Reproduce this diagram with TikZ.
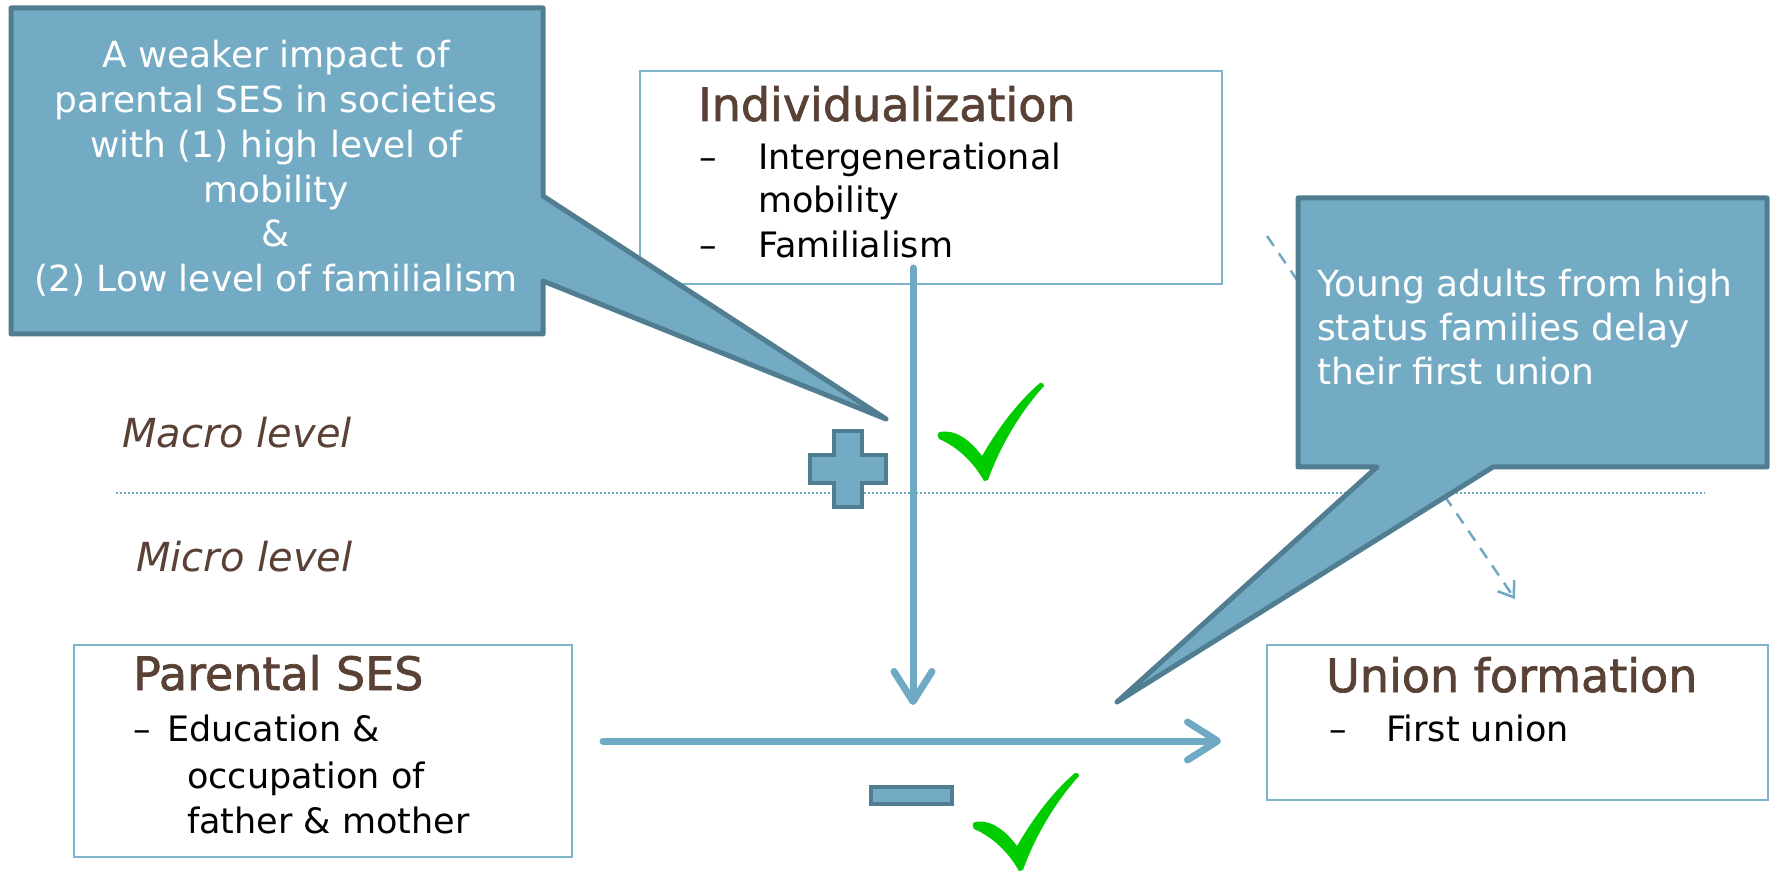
\documentclass[tikz,border=0pt]{standalone}
\usepackage{fontspec}
\setmainfont{DejaVu Sans}
\newfontfamily\titlefont[FakeBold=1.5]{DejaVu Sans}
\usetikzlibrary{arrows.meta}
\definecolor{callfill}{HTML}{72ABC3}
\definecolor{callline}{HTML}{517D90}
\definecolor{boxline}{HTML}{7DB4CB}
\definecolor{arrowc}{HTML}{6FA9C3}
\definecolor{titlec}{HTML}{5A4136}
\definecolor{checkc}{HTML}{00CC00}
\tikzset{
  checkmark/.pic={
    \fill[checkc] (2,49) .. controls (18,46) and (33,58) .. (44,73)
      .. controls (62,42) and (82,17) .. (102,0)
      .. controls (104,-1) and (107,1) .. (106,3)
      .. controls (86,25) and (64,58) .. (50,97)
      -- (46,98)
      .. controls (36,80) and (20,64) .. (1,56)
      .. controls (-1,54) and (-1,50) .. (2,49) -- cycle;
  }
}
\begin{document}
\begin{tikzpicture}[x=1pt,y=-1pt,
  callout/.style={fill=callfill, draw=callline, line width=5pt, line join=round},
  boxframe/.style={draw=boxline, line width=1.8pt, inner sep=0pt, anchor=north west},
  title/.style={anchor=base west, inner sep=0pt, text=titlec, font=\titlefont\fontsize{46}{50}\selectfont},
  item/.style={anchor=base west, inner sep=0pt, text=black, font=\fontsize{35}{44}\selectfont},
  calltext/.style={inner sep=0pt, text=white, font=\fontsize{36}{45}\selectfont},
  leveltext/.style={anchor=base west, inner sep=0pt, text=titlec, font=\itshape\fontsize{40}{48}\selectfont},
  mainarrow/.style={draw=arrowc, line width=7pt, line cap=round, -{Straight Barb[length=30pt,width=38pt,round]}},
  dasharrow/.style={draw=arrowc, line width=2.5pt, dash pattern=on 12pt off 9pt, -{Straight Barb[length=14pt,width=20pt]}},
  signshape/.style={fill=callfill, draw=callline, line width=4pt, line join=miter},
  dotline/.style={draw=arrowc, line width=2pt, dash pattern=on 2pt off 2pt}]
\fill[white] (0,0) rectangle (1773,874);
\useasboundingbox (0,0) rectangle (1773,874);

% boxes
\node[boxframe, minimum width=582pt, minimum height=213pt] (indbox) at (639,70) {};
\node[title] (indtitle) at (698,121) {Individualization};
\node[item] (inddash1) at (699,170) {–};
\node[item] (ind1) at (758,170) {Intergenerational};
\node[item] (ind1b) at (758,213) {mobility};
\node[item] (inddash2) at (699,258) {–};
\node[item] (ind2) at (758,258) {Familialism};

\node[boxframe, minimum width=498pt, minimum height=212pt] (sesbox) at (73,644) {};
\node[title] (sestitle) at (133,690) {Parental SES};
\node[item] (ses0) at (133,741) {–};
\node[item] (ses1) at (167,741) {Education \&};
\node[item] (ses2) at (187,788) {occupation of};
\node[item] (ses3) at (187,833) {father \& mother};

\node[boxframe, minimum width=501pt, minimum height=155pt] (unbox) at (1266,644) {};
\node[title] (untitle) at (1326,692) {Union formation};
\node[item] (undash) at (1329,741) {–};
\node[item] (un1) at (1386,741) {First union};

% levels
\node[leveltext] (macro) at (122,447) {Macro level};
\node[leveltext] (micro) at (136,571) {Micro level};
\coordinate (dotA) at (116,493);
\coordinate (dotB) at (1705,493);
\draw[dotline] (dotA) -- (dotB);

% arrows
\coordinate (vstart) at (913,268);
\coordinate (vend) at (913,705);
\draw[mainarrow] (vstart) -- (vend);
\coordinate (hstart) at (603,741);
\coordinate (hend) at (1221,741);
\draw[mainarrow] (hstart) -- (hend);
\coordinate (dstart) at (1267,236);
\coordinate (dend) at (1515,599);
\draw[dasharrow] (dstart) -- (dend);

% signs
\draw[signshape] (834,431) -- (862,431) -- (862,455) -- (886,455) -- (886,483) -- (862,483) -- (862,507) -- (834,507) -- (834,483) -- (810,483) -- (810,455) -- (834,455) -- cycle;
\draw[signshape] (871,787) rectangle (952,804);

% checks
\pic (chk1) at (938,383) {checkmark};
\pic (chk2) at (973,773) {checkmark};

% left callout
\draw[callout] (11,8) -- (543,8) -- (543,196) -- (886,419) -- (543,281) -- (543,334) -- (11,334) -- cycle;
\node[calltext, anchor=base] (lc1) at (276,68) {A weaker impact of};
\node[calltext, anchor=base] (lc2) at (276,113) {parental SES in societies};
\node[calltext, anchor=base] (lc3) at (276,158) {with (1) high level of};
\node[calltext, anchor=base] (lc4) at (276,203) {mobility};
\node[calltext, anchor=base] (lc5) at (276,247) {\&};
\node[calltext, anchor=base] (lc6) at (276,292) {(2) Low level of familialism};

% right callout
\draw[callout] (1298,198) -- (1767,198) -- (1767,467) -- (1493,467) -- (1117,702) -- (1377,467) -- (1298,467) -- cycle;
\node[calltext, anchor=base west] (rc1) at (1317,297) {Young adults from high};
\node[calltext, anchor=base west] (rc2) at (1317,341) {status families delay};
\node[calltext, anchor=base west] (rc3) at (1317,385) {their first union};
\end{tikzpicture}
\end{document}
